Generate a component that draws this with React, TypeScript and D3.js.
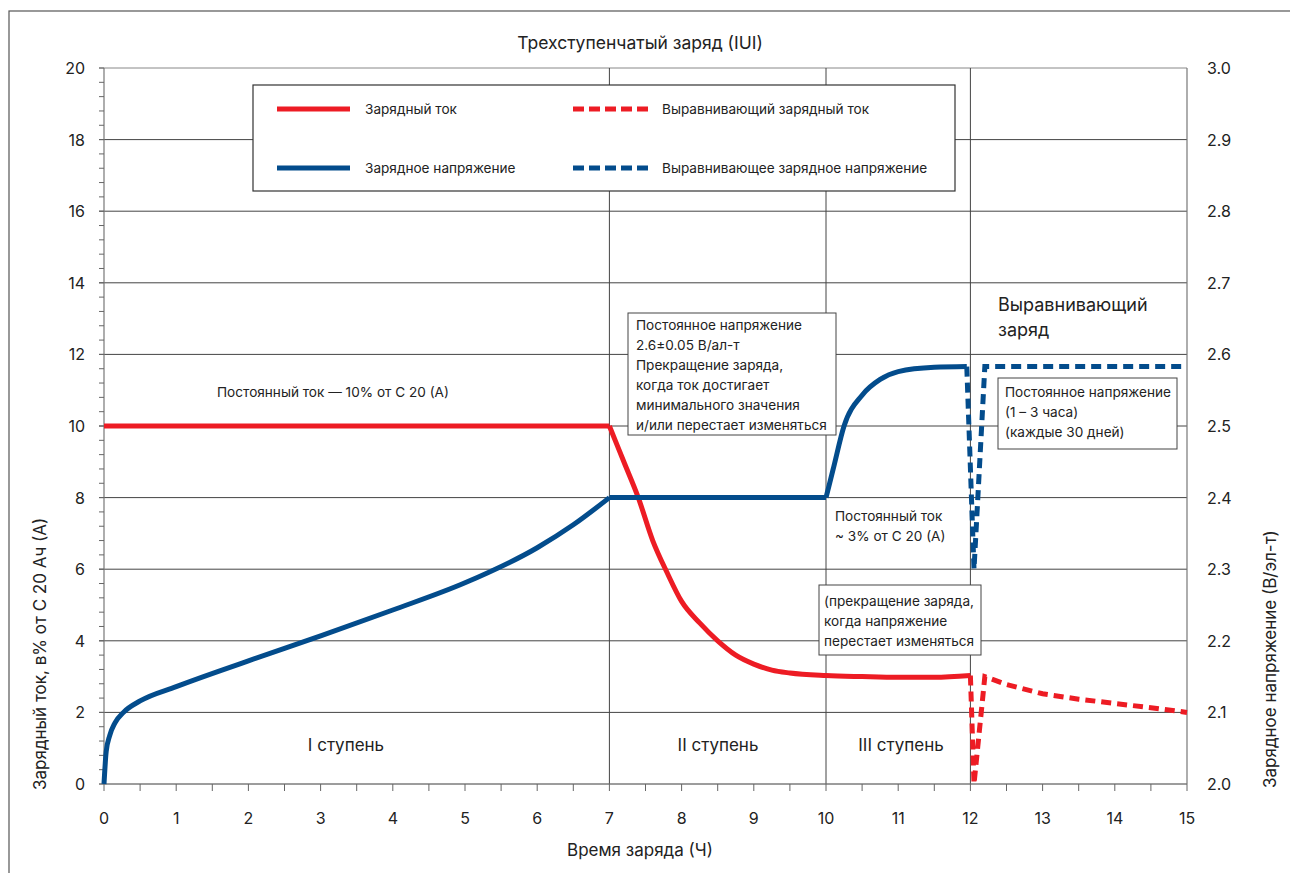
import React from "react";
import * as d3 from "d3";

// ---- data ----
const leftTicks = [0, 2, 4, 6, 8, 10, 12, 14, 16, 18, 20];
const rightTicks = [2.0, 2.1, 2.2, 2.3, 2.4, 2.5, 2.6, 2.7, 2.8, 2.9, 3.0];
const hourTicks = [0, 1, 2, 3, 4, 5, 6, 7, 8, 9, 10, 11, 12, 13, 14, 15];
const stageLines = [7, 10, 12];

// charging current (% of C20), left axis
const currentFlat: [number, number][] = [[0, 10], [7, 10]];
const currentDrop: [number, number][] = [
  [7, 10], [7.2, 9.0], [7.4, 8.0], [7.6, 6.8], [7.8, 5.9], [8.0, 5.1], [8.25, 4.5],
  [8.5, 4.0], [8.75, 3.6], [9.0, 3.35], [9.25, 3.18], [9.5, 3.1], [10, 3.03],
  [10.5, 3.0], [11, 2.98], [11.5, 2.98], [12, 3.03],
];
const equalCurrent: [number, number][] = [
  [12, 3.03], [12.05, 0], [12.2, 3.0], [12.5, 2.78], [13, 2.52], [13.5, 2.37],
  [14, 2.25], [14.5, 2.13], [15, 2.0],
];

// charging voltage (V/cell), right axis
const voltageRise: [number, number][] = [
  [0, 2.0], [0.03, 2.045], [0.08, 2.068], [0.15, 2.085], [0.27, 2.1], [0.5, 2.116],
  [1, 2.136], [2, 2.172], [3, 2.207], [4, 2.243], [5, 2.281], [6, 2.33], [6.5, 2.362], [7, 2.4],
];
const voltageFlat: [number, number][] = [[7, 2.4], [10, 2.4]];
const voltageAbsorb: [number, number][] = [
  [10, 2.4], [10.1, 2.44], [10.25, 2.5], [10.5, 2.543], [10.75, 2.565], [11, 2.576],
  [11.5, 2.582], [11.95, 2.583],
];
const equalVoltage: [number, number][] = [
  [11.95, 2.583], [12.05, 2.3], [12.2, 2.583], [15, 2.583],
];

const RED = "#ED1C24";
const BLUE = "#034C8C";
const FONT = "Inter, 'Noto Sans', sans-serif";

export default function App() {
  const W = 1290, H = 873;
  const x = d3.scaleLinear().domain([0, 15]).range([104, 1187]);
  const yL = d3.scaleLinear().domain([0, 20]).range([784, 68]);
  const yR = d3.scaleLinear().domain([2.0, 3.0]).range([784, 68]);

  const lineL = d3.line<[number, number]>().x(d => x(d[0])).y(d => yL(d[1]));
  const lineR = d3.line<[number, number]>().x(d => x(d[0])).y(d => yR(d[1]));
  const curveL = d3.line<[number, number]>().x(d => x(d[0])).y(d => yL(d[1])).curve(d3.curveMonotoneX);
  const curveR = d3.line<[number, number]>().x(d => x(d[0])).y(d => yR(d[1])).curve(d3.curveMonotoneX);

  const minorLeft = d3.range(0, 20.001, 0.4);
  const minorX = d3.range(0, 15.001, 0.5);

  const annoStyle = { fontFamily: FONT, fontSize: 13.6, fill: "#222" } as const;
  const lw = 5;

  return (
    <svg width={W} height={H} style={{ position: "absolute", left: 0, top: 0, background: "#fff" }}>
      <rect x={9} y={11} width={1400} height={1000} fill="#fff" stroke="#555" strokeWidth={1.2} />

      {/* title */}
      <text x={640} y={49} textAnchor="middle" style={{ fontFamily: FONT, fontSize: 17.5, fill: "#222" }}>
        Трехступенчатый заряд (IUI)
      </text>

      {/* horizontal grid */}
      {leftTicks.map(t => (
        <line key={"g" + t} x1={99} x2={1187} y1={yL(t)} y2={yL(t)}
          stroke={t === 20 || t === 0 ? "#888" : "#444"} strokeWidth={1} />
      ))}
      {/* vertical stage lines */}
      {stageLines.map(t => (
        <line key={"v" + t} x1={x(t)} x2={x(t)} y1={68} y2={784} stroke="#444" strokeWidth={1} />
      ))}
      {/* axes */}
      <line x1={104} x2={104} y1={68} y2={784} stroke="#777" strokeWidth={1.2} />
      <line x1={1187} x2={1187} y1={68} y2={784} stroke="#777" strokeWidth={1.2} />
      <line x1={104} x2={1187} y1={784} y2={784} stroke="#777" strokeWidth={1.2} />
      {minorLeft.map((t, i) => (
        <line key={"ml" + i} x1={99} x2={104} y1={yL(t)} y2={yL(t)} stroke="#666" strokeWidth={1} />
      ))}
      {minorX.map((t, i) => (
        <line key={"mx" + i} x1={x(t)} x2={x(t)} y1={784} y2={791} stroke="#666" strokeWidth={1} />
      ))}

      {/* tick labels */}
      {leftTicks.map(t => (
        <text key={"lt" + t} x={85} y={yL(t) + 6} textAnchor="end"
          style={{ fontFamily: FONT, fontSize: 16, fill: "#222" }}>{t}</text>
      ))}
      {rightTicks.map(t => (
        <text key={"rt" + t} x={1207} y={yR(t) + 6} textAnchor="start"
          style={{ fontFamily: FONT, fontSize: 16, fill: "#222" }}>{t.toFixed(1)}</text>
      ))}
      {hourTicks.map(t => (
        <text key={"ht" + t} x={x(t)} y={824} textAnchor="middle"
          style={{ fontFamily: FONT, fontSize: 16, fill: "#222" }}>{t}</text>
      ))}

      {/* axis titles */}
      <text x={640} y={856} textAnchor="middle" style={{ fontFamily: FONT, fontSize: 17, fill: "#222" }}>
        Время заряда (Ч)
      </text>
      <text transform="translate(46,790) rotate(-90)" textAnchor="start"
        style={{ fontFamily: FONT, fontSize: 17, fill: "#222" }}>
        Зарядный ток, в% от С 20 Ач (А)
      </text>
      <text transform="translate(1276,788) rotate(-90)" textAnchor="start"
        style={{ fontFamily: FONT, fontSize: 17, fill: "#222" }}>
        Зарядное напряжение (В/эл-т)
      </text>

      {/* stage labels */}
      <text x={346} y={751} textAnchor="middle" style={{ fontFamily: FONT, fontSize: 17, fill: "#222" }}>I ступень</text>
      <text x={718} y={751} textAnchor="middle" style={{ fontFamily: FONT, fontSize: 17, fill: "#222" }}>II ступень</text>
      <text x={901} y={751} textAnchor="middle" style={{ fontFamily: FONT, fontSize: 17, fill: "#222" }}>III ступень</text>

      {/* free annotations */}
      <text x={217} y={397} style={annoStyle}>Постоянный ток — 10% от С 20 (А)</text>
      <text x={835} y={521} style={annoStyle}>Постоянный ток</text>
      <text x={835} y={541} style={annoStyle}>~ 3% от С 20 (А)</text>
      <text x={998} y={311} style={{ fontFamily: FONT, fontSize: 18, fill: "#222" }}>Выравнивающий</text>
      <text x={998} y={336} style={{ fontFamily: FONT, fontSize: 18, fill: "#222" }}>заряд</text>

      {/* series */}
      <path d={lineL(currentFlat) || ""} fill="none" stroke={RED} strokeWidth={lw} />
      <path d={curveL(currentDrop) || ""} fill="none" stroke={RED} strokeWidth={lw} />
      <path d={lineL(equalCurrent) || ""} fill="none" stroke={RED} strokeWidth={lw} strokeDasharray="10,6" />
      <path d={curveR(voltageRise) || ""} fill="none" stroke={BLUE} strokeWidth={lw} />
      <path d={lineR(voltageFlat) || ""} fill="none" stroke={BLUE} strokeWidth={lw} />
      <path d={curveR(voltageAbsorb) || ""} fill="none" stroke={BLUE} strokeWidth={lw} />
      <path d={lineR(equalVoltage) || ""} fill="none" stroke={BLUE} strokeWidth={lw} strokeDasharray="10,6" />

      {/* boxed annotations */}
      <rect x={628} y={313} width={208} height={122} fill="#fff" stroke="#444" strokeWidth={1} />
      {["Постоянное напряжение", "2.6±0.05 В/ал-т", "Прекращение заряда,", "когда ток достигает",
        "минимального значения", "и/или перестает изменяться"].map((s, i) => (
        <text key={"a1" + i} x={636} y={330 + i * 20} style={annoStyle}>{s}</text>
      ))}
      <rect x={998} y={378} width={179} height={71} fill="#fff" stroke="#444" strokeWidth={1} />
      {["Постоянное напряжение", "(1 – 3 часа)", "(каждые 30 дней)"].map((s, i) => (
        <text key={"a2" + i} x={1005} y={397 + i * 20} style={annoStyle}>{s}</text>
      ))}
      <rect x={819} y={585} width={162} height={70} fill="#fff" stroke="#444" strokeWidth={1} />
      {["(прекращение заряда,", "когда напряжение", "перестает изменяться"].map((s, i) => (
        <text key={"a3" + i} x={824} y={606 + i * 20} style={annoStyle}>{s}</text>
      ))}

      {/* legend */}
      <rect x={253} y={85} width={702} height={106} fill="#fff" stroke="#333" strokeWidth={1.2} />
      <line x1={277} x2={350} y1={109} y2={109} stroke={RED} strokeWidth={lw} />
      <text x={365} y={114} style={annoStyle}>Зарядный ток</text>
      <line x1={573} x2={648} y1={109} y2={109} stroke={RED} strokeWidth={lw} strokeDasharray="11,5" />
      <text x={662} y={114} style={annoStyle}>Выравнивающий зарядный ток</text>
      <line x1={277} x2={350} y1={168} y2={168} stroke={BLUE} strokeWidth={lw} />
      <text x={365} y={173} style={annoStyle}>Зарядное напряжение</text>
      <line x1={573} x2={648} y1={168} y2={168} stroke={BLUE} strokeWidth={lw} strokeDasharray="11,5" />
      <text x={662} y={173} style={annoStyle}>Выравнивающее зарядное напряжение</text>
    </svg>
  );
}
